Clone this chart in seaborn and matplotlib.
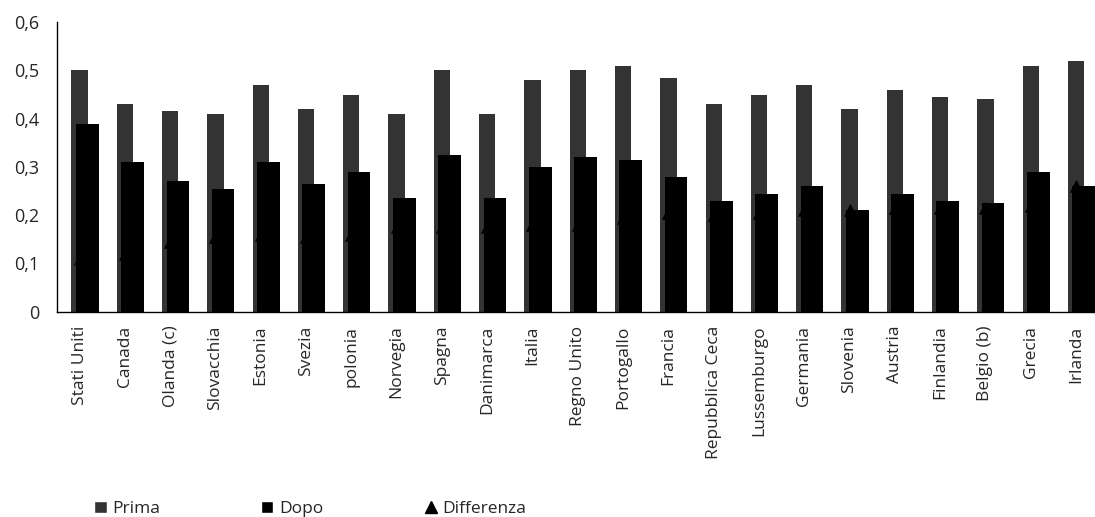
import numpy as np
import pandas as pd
import matplotlib
matplotlib.use("Agg")
import matplotlib.pyplot as plt
from matplotlib.lines import Line2D
from matplotlib.patches import Patch
import seaborn as sns

# Data
paesi = ["Stati Uniti", "Canada", "Olanda (c)", "Slovacchia", "Estonia", "Svezia",
         "polonia", "Norvegia", "Spagna", "Danimarca", "Italia", "Regno Unito",
         "Portogallo", "Francia", "Repubblica Ceca", "Lussemburgo", "Germania",
         "Slovenia", "Austria", "Finlandia", "Belgio (b)", "Grecia", "Irlanda"]
prima = [0.50, 0.43, 0.415, 0.41, 0.47, 0.42, 0.45, 0.41, 0.50, 0.41, 0.48, 0.50,
         0.51, 0.485, 0.43, 0.45, 0.47, 0.42, 0.46, 0.445, 0.44, 0.51, 0.52]
dopo = [0.39, 0.31, 0.27, 0.255, 0.31, 0.265, 0.29, 0.235, 0.325, 0.235, 0.30, 0.32,
        0.315, 0.28, 0.23, 0.245, 0.26, 0.21, 0.245, 0.23, 0.225, 0.29, 0.26]
differenza = [0.11, 0.12, 0.145, 0.155, 0.16, 0.155, 0.16, 0.175, 0.175, 0.175, 0.18, 0.18,
              0.195, 0.205, 0.20, 0.205, 0.21, 0.21, 0.215, 0.215, 0.215, 0.22, 0.26]
y_ticks = [0, 0.1, 0.2, 0.3, 0.4, 0.5, 0.6]
y_labels = ["0", "0,1", "0,2", "0,3", "0,4", "0,5", "0,6"]

sns.set_theme(style="white")
plt.rcParams['font.family'] = ['Open Sans', 'DejaVu Sans']

pos = np.arange(len(paesi))
df = pd.DataFrame({"pos": pos, "Prima": prima, "Dopo": dopo, "Differenza": differenza})

fig = plt.figure(figsize=(10.95, 5.17), dpi=100)
ax = fig.add_axes([0.052, 0.397, 0.948, 0.56])

# Prima: narrow grey column, Dopo: wider black column shifted right
sns.barplot(x=df["pos"], y=df["Prima"], native_scale=True, width=0.36,
            color="#333333", saturation=1, linewidth=0, ax=ax, zorder=2)
sns.barplot(x=df["pos"] + 0.17, y=df["Dopo"], native_scale=True, width=0.5,
            color="black", saturation=1, linewidth=0, ax=ax, zorder=3)
sns.scatterplot(x=df["pos"], y=df["Differenza"], marker="^", s=70, color="black",
                edgecolor="black", ax=ax, zorder=4, legend=False)

ax.set_xlim(-0.5, 22.42)
ax.set_ylim(0, 0.6)
ax.set_yticks(y_ticks)
ax.set_yticklabels(y_labels, fontsize=13)
ax.set_xticks(pos)
ax.set_xticklabels(paesi, rotation=90, fontsize=12.5)
ax.set_xticks(pos[:-1] + 0.5, minor=True)
ax.tick_params(axis="x", which="major", length=0, pad=10)
ax.tick_params(axis="x", which="minor", length=5, width=1, color="black", direction="out")
ax.tick_params(axis="y", length=5, width=1, color="black", direction="out", pad=8)
ax.set_xlabel("")
ax.set_ylabel("")

sns.despine(ax=ax, top=True, right=True)
for side in ["left", "bottom"]:
    ax.spines[side].set_color("black")
    ax.spines[side].set_linewidth(1)

handles = [Patch(facecolor="#333333", label="Prima"),
           Patch(facecolor="black", label="Dopo"),
           Line2D([], [], marker="^", color="black", linestyle="", markersize=9, label="Differenza")]
fig.legend(handles=handles, loc="lower left", bbox_to_anchor=(0.072, -0.03), ncol=3,
           frameon=False, fontsize=12.5, handlelength=0.7, handletextpad=0.35,
           columnspacing=5.8)

fig.savefig("out.png", dpi=100)
